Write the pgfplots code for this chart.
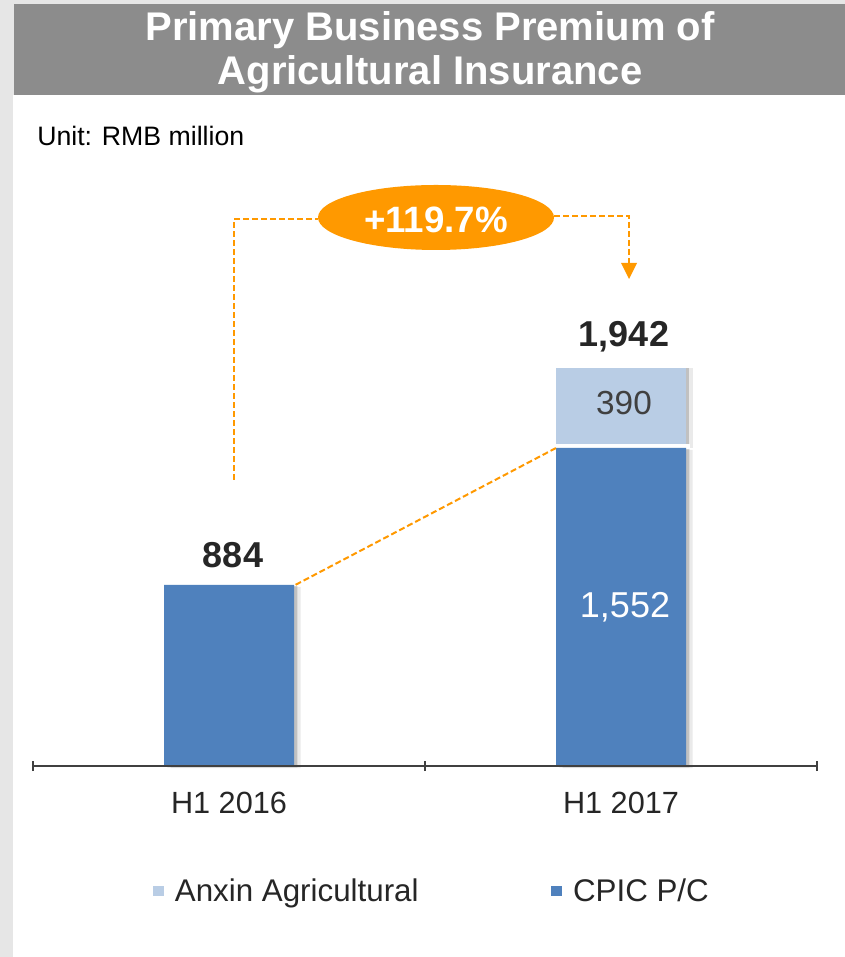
\documentclass[border=0pt]{standalone}
\usepackage{pgfplots}
\pgfplotsset{compat=1.18}
\usepackage{fontspec}
\setmainfont{Liberation Sans}
\usetikzlibrary{shadows}

\definecolor{cpic}{HTML}{4F81BD}
\definecolor{anxin}{HTML}{B9CDE5}
\definecolor{orng}{HTML}{FF9900}
\definecolor{titlegrey}{HTML}{8C8C8C}
\definecolor{bggrey}{HTML}{E6E6E6}
\definecolor{txt}{HTML}{262626}

\makeatletter
\tikzset{nopreactions/.code={\let\tikz@preactions\pgfutil@empty\let\tikz@postactions\pgfutil@empty}}
\makeatother

\tikzset{
  % white outline first (gives the gap between stacked parts), then a two-layer shadow
  whitegap/.style={preaction={draw=white, line width=6pt}},
  shadowA/.style={drop shadow={shadow xshift=2.5pt, shadow yshift=-#1, opacity=0.22, fill=black!80}},
  shadowB/.style={drop shadow={shadow xshift=5pt, shadow yshift=-#1, opacity=0.10, fill=black!80}},
  orangedash/.style={draw=orng, line width=1.5pt, dash pattern=on 4.5pt off 2.25pt},
  boldlabel/.style={anchor=base, text=txt, font=\fontsize{27}{30}\selectfont\bfseries},
}

\begin{document}
\begin{tikzpicture}
% background and title bar, in pixel units of the reference
\begin{scope}[x=0.75pt, y=0.75pt]
  \fill[bggrey] (0,0) rectangle (845,957);
  \useasboundingbox (0,0) rectangle (845,957);
  \fill[white] (13,0) rectangle (845,957-95);
  \fill[titlegrey] (14,957-95) rectangle (845,957-4);
  \node[anchor=base, text=white, font=\fontsize{30}{34}\selectfont\bfseries] at (430,957-41) {Primary Business Premium of};
  \node[anchor=base, text=white, font=\fontsize{30}{34}\selectfont\bfseries] at (430,957-85) {Agricultural Insurance};
  \node[anchor=base west, inner sep=0pt, text=black, font=\fontsize{20}{24}\selectfont] at (37,957-146) {Unit: RMB million};
\end{scope}

\begin{axis}[
  at={(24.75pt,143.25pt)}, anchor=south west,
  scale only axis, width=588pt, height=430.5pt,
  xmin=-0.5, xmax=1.5, ymin=0, ymax=2800,
  ybar stacked, bar width=97.5pt,
  clip=false, axis on top,
  axis y line=none,
  axis x line=bottom,
  x axis line style={-, draw=black!75, line width=1.2pt},
  xtick={0,1},
  xticklabels={H1 2016, H1 2017},
  major tick length=0pt,
  xticklabel style={anchor=base, yshift=-35.25pt, text=txt, font=\fontsize{23}{27}\selectfont},
  extra x ticks={-0.5,0.5,1.5},
  extra x tick labels={},
  extra x tick style={major tick length=7.5pt, tick style={draw=black!75, line width=1.2pt}},
  reverse legend,
  legend columns=2,
  legend style={at={(0.153,-0.2178)}, anchor=west, draw=none, fill=none, inner sep=0pt,
    font=\fontsize{23.5}{27}\selectfont, text=txt,
    /tikz/every odd column/.append style={column sep=6pt},
    /tikz/every even column/.append style={column sep=97.5pt}},
]
\addplot[fill=cpic, draw=none, whitegap, shadowB=1.5pt, shadowA=1pt,
  legend image code/.code={\fill[nopreactions, cpic] (0pt,-4.1pt) rectangle (8.25pt,4.1pt);}]
  coordinates {(0,884) (1,1552)};
\addlegendentry{CPIC P/C}
\addplot[fill=anxin, draw=none, whitegap, shadowB=0pt, shadowA=0pt,
  legend image code/.code={\fill[nopreactions, anxin] (0pt,-4.1pt) rectangle (8.25pt,4.1pt);}]
  coordinates {(0,0) (1,390)};
\addlegendentry{Anxin Agricultural}

% anchor points for the labels, drawn after the axis
\coordinate (v884) at (axis cs:0,884);
\coordinate (v1942) at (axis cs:1,1942);
\coordinate (v390) at (axis cs:1,1747);
\coordinate (v1552) at (axis cs:1,776);
\coordinate (g0) at (axis cs:0.17,884);
\coordinate (g1) at (axis cs:0.835,1552);
\end{axis}

% value labels
\node[boldlabel, xshift=3pt, yshift=12.75pt] at (v884) {884};
\node[boldlabel, xshift=2.25pt, yshift=15.75pt] at (v1942) {1,942};
\node[anchor=base, text=black!75, font=\fontsize{25}{28}\selectfont, xshift=2.25pt, yshift=-5.25pt] at (v390) {390};
\node[anchor=base, text=white, font=\fontsize{27}{30}\selectfont, xshift=3pt, yshift=-8pt] at (v1552) {1,552};

% growth connector between the two bars
\draw[orangedash] (g0) -- (g1);

% growth callout
\begin{scope}[x=0.75pt, y=0.75pt]
  \draw[orangedash] (234,957-480) -- (234,957-219) -- (318,957-219);
  \draw[orangedash] (554,957-216) -- (629,957-216) -- (629,957-263);
  \fill[orng] (621,957-263) -- (637,957-263) -- (629,957-279) -- cycle;
  \fill[orng] (436,957-217.5) ellipse [x radius=118, y radius=32.5];
  \node[anchor=base, text=white, font=\fontsize{27.5}{30}\selectfont\bfseries] at (436,957-233) {+119.7\%};
\end{scope}
\end{tikzpicture}
\end{document}
